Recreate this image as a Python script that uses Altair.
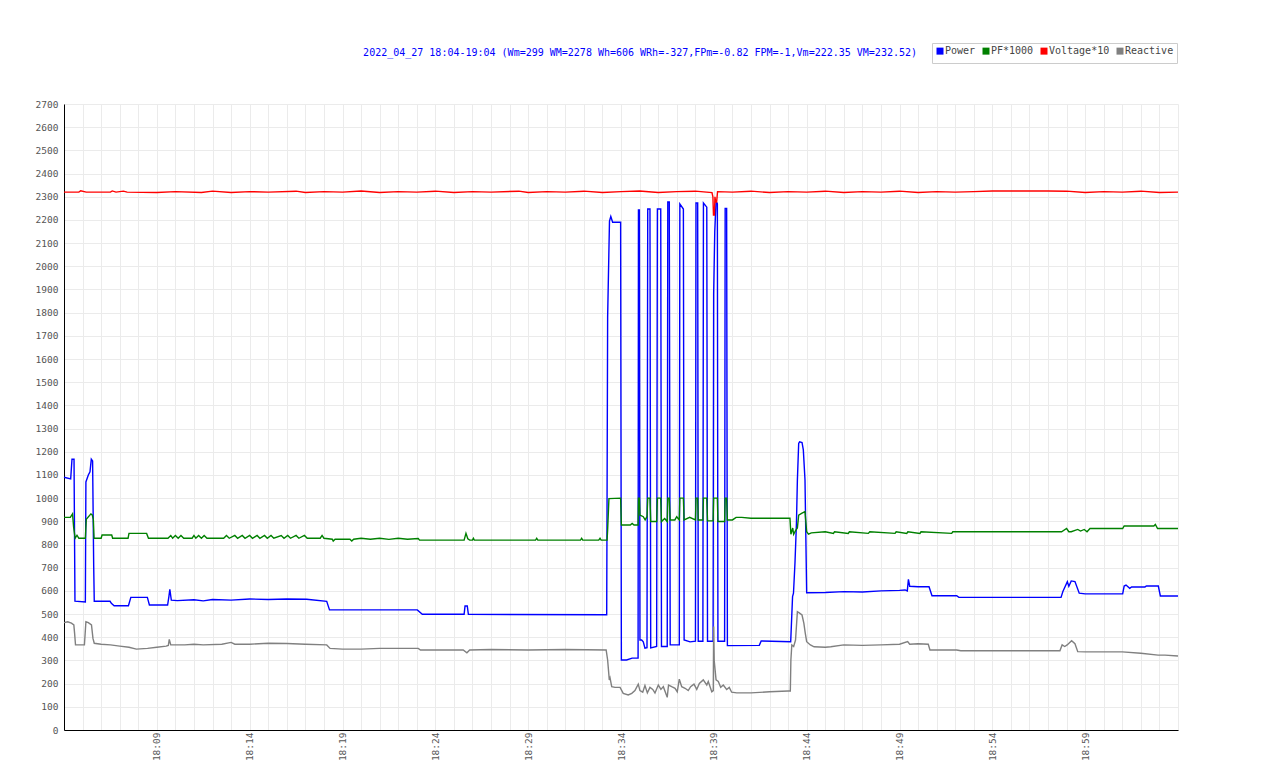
import altair as alt
import pandas as pd

series_names = ["Power", "PF*1000", "Voltage*10", "Reactive"]
series_colors = ["#0000ff", "#008000", "#ff0000", "#808080"]
title_text = "2022_04_27 18:04-19:04 (Wm=299 WM=2278 Wh=606 WRh=-327,FPm=-0.82 FPM=-1,Vm=222.35 VM=232.52)"

# time in minutes after 18:04
power_t = [0.00, 0.36, 0.43, 0.54, 0.59, 1.15, 1.18, 1.31, 1.40, 1.47,
           1.54, 1.60, 1.63, 2.48, 2.55, 2.70, 3.47, 3.60, 4.49, 4.60,
           5.58, 5.65, 5.70, 5.78, 6.10, 7.00, 7.50, 8.00, 9.00, 10.00,
           11.00, 12.00, 13.07, 14.15, 14.30, 19.03, 19.30, 21.55, 21.60, 21.72,
           21.78, 29.23, 29.28, 29.38, 29.45, 29.55, 29.98, 30.02, 30.30, 30.60,
           30.92, 30.94, 30.99, 31.02, 31.11, 31.20, 31.29, 31.40, 31.44, 31.56,
           31.60, 31.92, 31.96, 32.14, 32.18, 32.49, 32.52, 32.60, 32.65, 33.14,
           33.17, 33.36, 33.40, 33.72, 34.01, 34.04, 34.13, 34.16, 34.41, 34.44,
           34.62, 34.66, 34.96, 34.99, 35.05, 35.12, 35.19, 35.22, 35.58, 35.61,
           35.69, 35.73, 37.45, 37.55, 39.14, 39.24, 39.29, 39.37, 39.45, 39.50,
           39.57, 39.62, 39.75, 39.82, 39.91, 40.00, 41.00, 42.00, 43.00, 44.00,
           45.00, 45.30, 45.42, 45.48, 45.55, 46.00, 46.59, 46.75, 48.08, 48.20,
           53.70, 53.80, 54.04, 54.12, 54.25, 54.45, 54.68, 55.00, 57.02, 57.10,
           57.20, 57.40, 57.50, 58.22, 58.30, 58.94, 59.05, 60.00]
power_v = [1090, 1083, 1168, 1168, 556, 552, 1070, 1100, 1114, 1168,
           1160, 704, 555, 555, 546, 536, 536, 572, 572, 539,
           539, 575, 607, 560, 558, 562, 557, 563, 560, 565,
           563, 565, 564, 555, 518, 518, 499, 499, 535, 535,
           499, 497, 1780, 2195, 2215, 2190, 2190, 302, 302, 310,
           310, 2243, 2243, 388, 388, 380, 353, 355, 2247, 2247,
           354, 360, 2247, 2247, 360, 360, 2277, 2277, 367, 367,
           2269, 2247, 388, 380, 383, 2273, 2273, 383, 383, 2273,
           2255, 383, 383, 1880, 2150, 2280, 2270, 383, 383, 2250,
           2250, 364, 365, 384, 381, 575, 590, 720, 893, 1078,
           1236, 1243, 1240, 1208, 1078, 592, 593, 597, 595, 600,
           602, 604, 600, 650, 620, 618, 618, 579, 579, 572,
           572, 597, 640, 620, 643, 640, 590, 587, 587, 621,
           625, 611, 617, 617, 621, 621, 578, 578]

pf_t = [0.00, 0.34, 0.46, 0.52, 0.60, 0.70, 0.80, 1.15, 1.20, 1.45,
        1.52, 1.58, 1.62, 2.00, 2.05, 2.57, 2.62, 3.45, 3.50, 4.45,
        4.55, 5.60, 5.75, 5.85, 6.00, 6.15, 6.30, 6.45, 6.90, 7.00,
        7.10, 7.25, 7.40, 7.55, 7.70, 8.60, 8.75, 8.90, 9.20, 9.35,
        9.60, 9.75, 10.00, 10.15, 10.40, 10.55, 10.80, 10.95, 11.15, 11.30,
        11.70, 11.85, 12.05, 12.20, 12.50, 12.65, 12.95, 13.10, 13.80, 13.90,
        14.00, 14.45, 14.50, 14.60, 15.40, 15.50, 15.60, 16.00, 16.50, 17.00,
        17.50, 18.00, 18.50, 19.08, 19.15, 21.55, 21.65, 21.75, 21.85, 22.00,
        22.05, 22.10, 25.40, 25.46, 25.52, 27.82, 27.88, 27.94, 28.80, 28.87,
        28.93, 29.25, 29.28, 29.35, 29.98, 30.02, 30.50, 30.60, 30.70, 30.92,
        30.94, 30.99, 31.02, 31.20, 31.30, 31.40, 31.44, 31.56, 31.60, 31.92,
        31.96, 32.14, 32.18, 32.35, 32.49, 32.52, 32.60, 32.65, 32.90, 33.00,
        33.14, 33.17, 33.36, 33.40, 33.70, 34.01, 34.04, 34.13, 34.16, 34.41,
        34.44, 34.62, 34.66, 34.96, 34.99, 35.19, 35.22, 35.58, 35.61, 35.69,
        35.73, 36.00, 36.20, 36.50, 37.00, 39.10, 39.15, 39.25, 39.30, 39.40,
        39.50, 39.57, 39.75, 39.91, 40.00, 40.10, 40.25, 41.00, 41.44, 41.50,
        42.24, 42.30, 43.32, 43.40, 44.76, 44.82, 45.39, 45.45, 46.10, 46.16,
        47.81, 47.87, 53.73, 54.00, 54.12, 54.25, 54.60, 54.75, 54.95, 55.10,
        55.26, 57.02, 57.10, 58.70, 58.78, 58.90, 60.00]
pf_v = [917, 917, 932, 874, 827, 840, 827, 827, 909, 932,
        928, 909, 827, 827, 841, 841, 827, 827, 848, 848,
        827, 827, 839, 827, 839, 827, 839, 827, 827, 839,
        827, 839, 827, 839, 827, 827, 839, 827, 839, 827,
        839, 827, 839, 827, 839, 827, 839, 827, 839, 827,
        839, 827, 839, 827, 839, 827, 839, 827, 827, 839,
        827, 823, 815, 823, 823, 815, 823, 827, 823, 827,
        822, 827, 823, 826, 819, 819, 848, 825, 819, 819,
        827, 819, 819, 827, 819, 819, 827, 819, 819, 827,
        819, 819, 863, 998, 1000, 884, 884, 891, 884, 884,
        1000, 1000, 927, 920, 906, 920, 1000, 1000, 899, 899,
        1000, 1000, 899, 912, 899, 1000, 1000, 906, 906, 920,
        906, 1000, 1000, 906, 917, 906, 1000, 1000, 906, 906,
        1000, 1000, 902, 902, 1000, 1000, 899, 899, 1000, 1000,
        906, 906, 917, 917, 913, 913, 844, 871, 844, 860,
        871, 927, 935, 942, 855, 845, 850, 855, 848, 855,
        848, 855, 848, 855, 848, 855, 848, 855, 848, 855,
        848, 855, 855, 869, 855, 855, 865, 858, 865, 855,
        869, 869, 880, 880, 887, 869, 869]

volt_t = [0.0, 0.8, 0.9, 1.2, 2.5, 2.6, 2.8, 3.2, 3.4, 5.0,
          6.0, 7.4, 8.0, 9.0, 10.0, 11.0, 12.5, 13.0, 14.0, 15.0,
          16.0, 17.0, 18.0, 19.0, 20.0, 21.0, 22.0, 23.0, 24.5, 25.0,
          26.0, 27.0, 28.0, 29.0, 30.0, 31.0, 32.0, 33.0, 34.0, 34.90,
          34.95, 34.98, 35.03, 35.06, 35.10, 35.15, 35.20, 36.0, 37.0, 38.0,
          39.0, 40.0, 41.0, 42.0, 43.0, 44.0, 45.0, 46.0, 47.0, 48.0,
          49.0, 50.0, 53.0, 54.0, 55.0, 56.0, 57.0, 58.0, 59.0, 60.0]
volt_v = [2320, 2320, 2326, 2320, 2320, 2325, 2320, 2324, 2320, 2318,
          2322, 2318, 2324, 2318, 2322, 2320, 2324, 2318, 2322, 2320,
          2325, 2318, 2322, 2320, 2324, 2318, 2322, 2320, 2324, 2318,
          2322, 2320, 2324, 2318, 2322, 2325, 2318, 2322, 2324, 2318,
          2300, 2221, 2221, 2300, 2277, 2277, 2322, 2320, 2324, 2318,
          2322, 2320, 2324, 2318, 2322, 2320, 2324, 2318, 2322, 2320,
          2322, 2325, 2325, 2324, 2318, 2322, 2320, 2324, 2318, 2320]

react_t = [0.00, 0.20, 0.40, 0.53, 0.57, 0.62, 1.10, 1.18, 1.31, 1.48,
           1.56, 1.63, 2.00, 2.50, 3.00, 3.50, 3.90, 4.50, 5.00, 5.50,
           5.62, 5.67, 5.75, 6.50, 7.00, 7.50, 8.50, 9.00, 9.20, 10.00,
           11.00, 12.00, 13.00, 14.15, 14.33, 15.00, 16.00, 17.00, 18.00, 19.08,
           19.20, 21.50, 21.70, 21.85, 23.00, 25.00, 27.00, 29.20, 29.28, 29.37,
           29.41, 29.50, 29.68, 29.95, 30.12, 30.39, 30.58, 30.75, 30.93, 31.02,
           31.17, 31.29, 31.42, 31.56, 31.71, 31.83, 32.01, 32.15, 32.28, 32.49,
           32.56, 32.73, 32.91, 33.03, 33.14, 33.27, 33.45, 33.62, 33.75, 33.93,
           34.08, 34.22, 34.43, 34.62, 34.70, 34.89, 34.97, 34.99, 35.02, 35.12,
           35.24, 35.37, 35.51, 35.69, 35.83, 35.96, 36.23, 37.00, 38.00, 39.00,
           39.12, 39.15, 39.20, 39.30, 39.40, 39.50, 39.60, 39.75, 39.85, 39.92,
           40.00, 40.20, 40.40, 41.00, 41.30, 42.00, 43.00, 44.00, 45.00, 45.44,
           45.55, 46.00, 46.55, 46.64, 48.08, 48.30, 53.64, 53.76, 53.90, 54.03,
           54.27, 54.45, 54.60, 55.00, 57.00, 58.00, 58.93, 59.30, 60.00]
react_v = [463, 467, 461, 453, 418, 367, 367, 467, 463, 453,
           395, 374, 370, 367, 362, 357, 349, 352, 357, 362,
           365, 391, 367, 367, 370, 367, 370, 378, 370, 370,
           374, 373, 370, 367, 352, 349, 349, 352, 352, 352,
           345, 345, 333, 345, 347, 345, 347, 345, 302, 216,
           225, 187, 184, 184, 158, 151, 158, 170, 198, 170,
           163, 192, 160, 184, 175, 160, 194, 175, 187, 141,
           194, 187, 180, 165, 219, 187, 180, 170, 187, 198,
           175, 201, 216, 194, 209, 165, 170, 446, 300, 216,
           209, 184, 194, 175, 184, 163, 160, 160, 165, 168,
           168, 302, 367, 360, 388, 510, 505, 496, 460, 420,
           381, 367, 359, 357, 359, 367, 365, 367, 370, 381,
           370, 372, 370, 345, 345, 342, 342, 367, 360, 367,
           385, 372, 338, 337, 337, 331, 323, 323, 319]

frames = []
for name, ts, vs in [("Power", power_t, power_v), ("PF*1000", pf_t, pf_v),
                     ("Voltage*10", volt_t, volt_v), ("Reactive", react_t, react_v)]:
    assert len(ts) == len(vs), (name, len(ts), len(vs))
    frames.append(pd.DataFrame({"t": ts, "v": vs, "series": name}))
df = pd.concat(frames, ignore_index=True)

FONT = "DejaVu Sans Mono"

x = alt.X("t:Q", title=None,
          scale=alt.Scale(domain=[0, 60], nice=False, zero=False),
          axis=alt.Axis(values=list(range(0, 61)), grid=True, ticks=False, tickSize=0,
                        labelExpr="(datum.value % 5 == 0 && datum.value > 0 && datum.value < 60) ? ('18:' + ((4 + datum.value) < 10 ? '0' : '') + (4 + datum.value)) : ''",
                        labelAngle=270, labelAlign="right", labelBaseline="middle",
                        labelPadding=2, labelOverlap=False, labelFlush=False))
y = alt.Y("v:Q", title=None,
          scale=alt.Scale(domain=[0, 2700], nice=False),
          axis=alt.Axis(values=list(range(0, 2701, 100)), format="d", grid=True,
                        ticks=False, tickSize=0, labelPadding=6, labelOverlap=False))
color = alt.Color("series:N",
                  scale=alt.Scale(domain=series_names, range=series_colors),
                  legend=alt.Legend(title=None, orient="none", direction="horizontal",
                                    legendX=868, legendY=-61, gridAlign="each",
                                    symbolType="square", symbolSize=12.25, symbolStrokeWidth=3.5,
                                    symbolOpacity=1,
                                    labelFont=FONT, labelFontSize=10, labelColor="#444",
                                    labelOffset=0, columnPadding=1, padding=3,
                                    strokeColor="#cccccc", fillColor="white"))

layers = [
    alt.Chart(df).transform_filter(alt.datum.series == name)
    .mark_line(strokeWidth=1.4, interpolate="linear")
    .encode(x=x, y=y, color=color)
    for name in series_names
]

chart = (
    alt.layer(*layers)
    .properties(
        width=1114, height=626,
        title=alt.TitleParams(text=title_text, anchor="start", dx=328, offset=-15,
                              font=FONT, fontSize=10, fontWeight="normal", color="#0000ff"),
        autosize=alt.AutoSizeParams(type="none"),
        padding={"left": 56, "top": 96, "right": 90, "bottom": 30},
    )
    .configure_view(stroke=None)
    .configure_axis(gridColor="#ebebeb", gridWidth=1, domainColor="#000000", domainWidth=1,
                    labelFont=FONT, labelFontSize=9.5, labelColor="#555555")
)

chart.save("out.html", embed_options={"renderer": "svg", "actions": False})
